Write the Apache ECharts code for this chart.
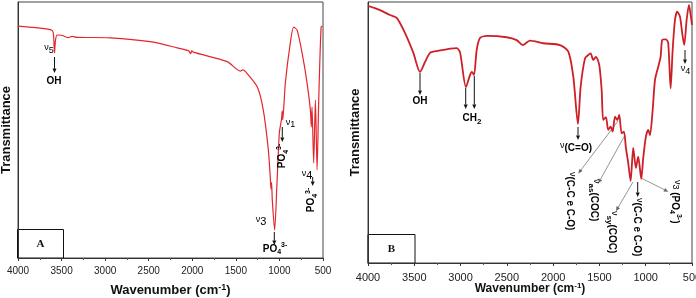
<!DOCTYPE html>
<html>
<head>
<meta charset="utf-8">
<script src="https://cdn.jsdelivr.net/npm/echarts@6/dist/echarts.min.js"></script>
<style>
html, body { margin: 0; padding: 0; background: #fff; }
#main { width: 696px; height: 298px; }
</style>
</head>
<body>
<div id="main"></div>
<script>
// panel A: wavenumber (cm-1) and transmittance (arb. %)
const wnA = [4000, 3800, 3620, 3595, 3581, 3570, 3552, 3500, 3425, 3380, 3322, 2943, 2483, 2173, 2040, 2020, 2005, 1990, 1599, 1449, 1420, 1392, 1254, 1185, 1127, 1105, 1097, 1090, 1082, 1055, 1028, 1001, 975, 968, 962, 932, 875, 837, 798, 740, 683, 645, 634, 626, 607, 587, 568, 549, 522, 507];
const tA = [90.6, 90.0, 89.1, 87.9, 80.1, 85.0, 87.1, 87.0, 86.1, 86.6, 86.2, 86.0, 84.5, 82.1, 80.9, 79.8, 81.0, 80.4, 76.7, 73.0, 73.5, 72.9, 66.8, 57.8, 42.2, 31.6, 27.0, 29.5, 22.7, 10.9, 29.3, 48.8, 54.5, 57.5, 54.0, 68.4, 84.0, 90.2, 89.1, 80.1, 68.4, 57.8, 51.2, 59.0, 37.1, 61.7, 34.4, 61.7, 90.2, 90.6];

// panel B
const wnB = [4000, 3870, 3762, 3690, 3600, 3510, 3438, 3384, 3330, 3258, 3042, 3006, 2942, 2898, 2877, 2855, 2826, 2790, 2718, 2502, 2394, 2329, 2250, 2107, 1926, 1836, 1782, 1732, 1703, 1656, 1621, 1595, 1567, 1538, 1502, 1476, 1459, 1430, 1405, 1379, 1357, 1332, 1308, 1286, 1260, 1235, 1214, 1189, 1163, 1135, 1106, 1081, 1048, 1027, 998, 973, 954, 925, 900, 865, 839, 822, 782, 757, 731, 709, 684, 660, 630, 606, 584, 558, 533, 512, 500];
const tB = [98.5, 96.9, 95.0, 93.9, 88.1, 80.5, 73.2, 77.0, 80.5, 81.2, 82.3, 80.8, 67.4, 72.0, 73.2, 72.0, 81.6, 86.2, 87.0, 86.5, 85.4, 83.5, 85.2, 84.2, 83.5, 81.0, 71.3, 53.3, 67.5, 78.4, 79.7, 80.3, 77.8, 79.0, 75.9, 66.3, 54.8, 55.9, 51.0, 52.2, 50.3, 56.1, 54.8, 56.7, 49.7, 50.3, 44.1, 38.3, 31.4, 44.1, 36.4, 40.7, 32.2, 40.2, 48.4, 51.0, 49.0, 58.6, 70.1, 75.2, 79.0, 85.4, 85.7, 84.3, 66.9, 81.6, 93.1, 96.3, 94.4, 88.1, 83.5, 93.1, 98.9, 94.4, 91.2];

const xMin = 500, xMax = 4000, xStep = 500;
const FONT = '"Liberation Sans", Arial, sans-serif';

const chart = echarts.init(document.getElementById('main'));

function mkX(idx, labelSize, labelMargin, nameSize, nameGap) {
    return {
        type: 'value',
        gridIndex: idx,
        min: xMin,
        max: xMax,
        interval: xStep,
        inverse: true,
        name: '{n|Wavenumber (cm}{s|-1}{n|)}',
        nameLocation: 'middle',
        nameGap: nameGap,
        nameMoveOverlap: false,
        nameTextStyle: {
            rich: {
                n: { fontSize: nameSize, fontWeight: 'bold', color: '#111', fontFamily: FONT, lineHeight: nameSize + 2 },
                s: { fontSize: nameSize - 4, fontWeight: 'bold', color: '#111', fontFamily: FONT, verticalAlign: 'top', lineHeight: nameSize + 2 }
            }
        },
        axisLine: { lineStyle: { color: '#333', width: 1 } },
        axisTick: { inside: false, length: 3, lineStyle: { color: '#333' } },
        minorTick: { show: true, splitNumber: 2, length: 2, lineStyle: { color: '#555' } },
        axisLabel: {
            fontSize: labelSize, color: '#222', fontFamily: FONT, margin: labelMargin,
            alignMinLabel: 'center', alignMaxLabel: 'center',
            formatter: v => String(v)
        },
        splitLine: { show: false }
    };
}

function mkY(idx, gap) {
    return {
        type: 'value',
        gridIndex: idx,
        min: 0,
        max: 100,
        name: 'Transmittance',
        nameLocation: 'middle',
        nameGap: gap,
        nameMoveOverlap: false,
        nameTextStyle: { fontSize: 13, fontWeight: 'bold', color: '#111', fontFamily: FONT },
        axisLine: { show: true, lineStyle: { color: '#333', width: 1 } },
        axisTick: { show: false },
        axisLabel: { show: false },
        splitLine: { show: false }
    };
}

// annotation helpers
function arrow(x1, y1, x2, y2, color, w) {
    const dx = x2 - x1, dy = y2 - y1, len = Math.hypot(dx, dy);
    const ux = dx / len, uy = dy / len;
    const hl = 4.5, hw = 2;
    const bx = x2 - ux * hl, by = y2 - uy * hl;
    return [
        { type: 'line', shape: { x1: x1, y1: y1, x2: bx, y2: by }, style: { stroke: color, lineWidth: w } },
        { type: 'polygon', shape: { points: [[x2, y2], [bx - uy * hw, by + ux * hw], [bx + uy * hw, by - ux * hw]] }, style: { fill: color } }
    ];
}

const rich = {
    b: { fontSize: 10, fontWeight: 'bold', color: '#111', fontFamily: FONT, lineHeight: 14 },
    nu: { fontSize: 9, color: '#222', fontFamily: FONT, lineHeight: 14, verticalAlign: 'top' },
    n: { fontSize: 9, color: '#222', fontFamily: FONT, lineHeight: 14 },
    n3: { fontSize: 11, color: '#222', fontFamily: FONT, lineHeight: 14 },
    sub: { fontSize: 7, fontWeight: 'bold', color: '#111', fontFamily: FONT, lineHeight: 14, verticalAlign: 'bottom' },
    sup: { fontSize: 7, fontWeight: 'bold', color: '#111', fontFamily: FONT, lineHeight: 14, verticalAlign: 'top' },
    s: { fontSize: 8, fontWeight: 'bold', color: '#111', fontFamily: FONT, lineHeight: 14, verticalAlign: 'bottom' }
};

function txt(x, y, text, rot, align) {
    return {
        type: 'text', x: x, y: y, rotation: rot || 0, z: 10,
        style: { text: text, rich: rich, align: align || 'center', verticalAlign: 'middle' }
    };
}

const V = -Math.PI / 2, U = Math.PI / 2;
const po4 = '{b|PO}{sub|4}{sup|3-}';

let g = [];
// panel A
g.push(txt(49, 50.5, '{nu|ν}{n|5}'));
g = g.concat(arrow(54.5, 57, 54.5, 73, '#111', 1));
g.push(txt(54, 81.5, '{b|OH}'));
g.push(txt(290.5, 125, '{nu|ν}{n|1}'));
g = g.concat(arrow(282.3, 127, 282.3, 142, '#111', 1));
g.push(txt(282.5, 156, po4, U));
g.push(txt(307, 176, '{nu|ν}{n3|4}'));
g = g.concat(arrow(312.7, 177, 312.7, 186, '#111', 1));
g.push(txt(311.5, 200, po4, U));
g.push(txt(261, 222, '{nu|ν}{n3|3}'));
g = g.concat(arrow(274.3, 232, 274.3, 245, '#111', 1));
g.push(txt(275, 249, po4));
g.push({ type: 'rect', shape: { x: 17.5, y: 229.5, width: 46, height: 28.5 }, style: { fill: '#fff', stroke: '#111', lineWidth: 1 } });
g.push({ type: 'text', x: 40.5, y: 244, style: { text: 'A', font: 'bold 11px "Liberation Serif", "Times New Roman", serif', fill: '#111', align: 'center', verticalAlign: 'middle' } });

// panel B
g = g.concat(arrow(420, 73, 420, 95, '#111', 1));
g.push(txt(420, 101.5, '{b|OH}'));
g = g.concat(arrow(465.7, 88, 465.7, 109, '#111', 1));
g = g.concat(arrow(474.3, 76, 474.3, 109, '#111', 1));
g.push(txt(472, 118.5, '{b|CH}{s|2}'));
g = g.concat(arrow(685, 50, 685, 64, '#111', 1));
g.push(txt(685.5, 71.5, '{nu|ν}{n|4}'));
g = g.concat(arrow(578, 127, 578, 140, '#111', 1));
g.push(txt(576, 148, '{nu|ν}{b|(C=O)}'));
g = g.concat(arrow(618, 121, 578.3, 173.5, '#666', 0.7));
g = g.concat(arrow(625, 135, 598.3, 183.3, '#666', 0.7));
g = g.concat(arrow(633, 182, 616, 211, '#666', 0.7));
g = g.concat(arrow(637.7, 182, 637.7, 197, '#111', 1));
g = g.concat(arrow(641.7, 178.3, 668.3, 191.7, '#666', 0.7));
g.push(txt(570, 172, '{nu|ν}{b|(C-C e C-O)}', V, 'left'));
g.push(txt(594, 179, '{nu|ν}{s|as}{b|(COC)}', V, 'left'));
g.push(txt(612, 211, '{nu|ν}{s|sy}{b|(COC)}', V, 'left'));
g.push(txt(636.5, 198, '{nu|ν}{b|(C-C e C-O)}', V, 'left'));
g.push(txt(675, 180, '{nu|ν}{n|3}{b| (PO}{sub|4}{sup|3-}{b|)}', V, 'left'));
g.push({ type: 'rect', shape: { x: 368, y: 234.5, width: 47, height: 28.5 }, style: { fill: '#fff', stroke: '#111', lineWidth: 1 } });
g.push({ type: 'text', x: 391.5, y: 249, style: { text: 'B', font: 'bold 11px "Liberation Serif", "Times New Roman", serif', fill: '#111', align: 'center', verticalAlign: 'middle' } });

const option = {
    animation: false,
    backgroundColor: '#fff',
    grid: [
        { left: 18, top: 2, width: 305, height: 256, show: true, borderColor: '#444', borderWidth: 1, backgroundColor: 'transparent', outerBoundsMode: 'none' },
        { left: 368, top: 2, width: 324, height: 261, show: true, borderColor: '#444', borderWidth: 1, backgroundColor: 'transparent', outerBoundsMode: 'none' }
    ],
    xAxis: [mkX(0, 10, 8, 13, 25), mkX(1, 11, 9, 12, 19)],
    yAxis: [mkY(0, 5), mkY(1, 6)],
    series: [
        {
            type: 'line', xAxisIndex: 0, yAxisIndex: 0,
            data: wnA.map((w, i) => [w, tA[i]]),
            showSymbol: false, smooth: 0.25,
            lineStyle: { color: '#e3262b', width: 1.2 }
        },
        {
            type: 'line', xAxisIndex: 1, yAxisIndex: 1,
            data: wnB.map((w, i) => [w, tB[i]]),
            showSymbol: false, smooth: 0.25,
            lineStyle: { color: '#cc1f27', width: 1.8 }
        }
    ],
    graphic: g
};

chart.setOption(option);
</script>
</body>
</html>
